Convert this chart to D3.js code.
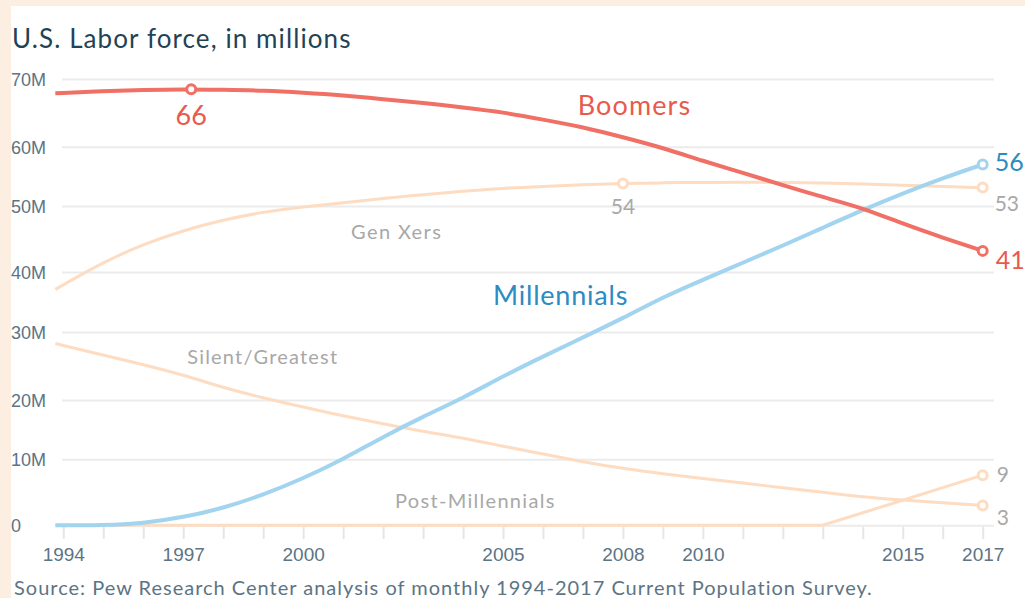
<!DOCTYPE html>
<html>
<head>
<meta charset="utf-8">
<script src="https://cdn.jsdelivr.net/npm/d3@7"></script>
<style>
    html, body { margin: 0; padding: 0; background: #fdeee2; }
    svg { display: block; font-family: Lato, sans-serif; }
    .grid line { stroke: #ebebeb; stroke-width: 2; }
    .ytick text { fill: #5d7484; font-size: 18px; }
    .xaxis line { stroke: #e6e6e6; stroke-width: 2; }
    .xaxis text { fill: #5d7484; font-size: 19px; }
</style>
</head>
<body>
<svg id="chart" width="1025" height="598"></svg>
<script>
// first point sits a little before the 1994 tick in the original
const years = [1993.8, 1995, 1996, 1997, 1998, 1999, 2000, 2001, 2002, 2003, 2004, 2005,
    2006, 2007, 2008, 2009, 2010, 2011, 2012, 2013, 2014, 2015, 2016, 2017];

const boomers = [67.9, 68.2, 68.4, 68.5, 68.4, 68.3, 68.0, 67.6, 67.0, 66.5, 65.8, 65.1,
    64.0, 62.9, 61.4, 59.8, 57.6, 55.6, 53.5, 51.5, 49.7, 47.3, 45.2, 43.2];
const millennials = [0, 0, 0.3, 1.2, 2.6, 4.6, 7.1, 10.0, 13.8, 17.2, 20.3, 23.5,
    26.4, 29.2, 32.3, 35.8, 38.7, 41.4, 44.0, 46.7, 49.4, 52.1, 54.7, 57.0];
const genXers = [37.1, 41.5, 44.2, 46.3, 47.9, 49.1, 49.9, 50.5, 51.3, 51.9, 52.5, 53.0,
    53.3, 53.6, 53.8, 53.9, 54.0, 54.0, 54.0, 53.9, 53.7, 53.5, 53.3, 53.1];
const silentGreatest = [28.3, 26.6, 25.2, 23.7, 21.8, 20.3, 18.8, 17.3, 16.0, 14.7, 13.6, 12.2,
    10.9, 9.6, 8.6, 7.8, 7.1, 6.4, 5.7, 5.0, 4.3, 3.8, 3.4, 3.0];
const postMillennials = [0, 0, 0, 0, 0, 0, 0, 0, 0, 0, 0, 0,
    0, 0, 0, 0, 0, 0, 0, 0, 1.9, 3.8, 5.7, 7.6];

const yTicks = [0, 10, 20, 30, 40, 50, 60, 70];
const yTickLabels = ['0', '10M', '20M', '30M', '40M', '50M', '60M', '70M'];
const xTicks = d3.range(1994, 2018);
const xTickLabels = [1994, 1997, 2000, 2005, 2008, 2010, 2015, 2017];

// circled points: [series, year, value, text]
const callouts = [
    ['Boomers', 1997.2, 68.5, '66'],
    ['Gen Xers', 2008, 53.8, '54'],
    ['Millennials', 2017, 57.0, '56'],
    ['Gen Xers', 2017, 53.1, '53'],
    ['Boomers', 2017, 43.2, '41'],
    ['Post-Millennials', 2017, 7.6, '9'],
    ['Silent/Greatest', 2017, 3.0, '3']
];

// series name labels anchored in data space: [name, year, value]
const seriesNames = [
    ['Boomers', 2006.87, 64.7],
    ['Millennials', 2004.75, 34.5],
    ['Gen Xers', 2001.2, 45.0],
    ['Silent/Greatest', 1997.1, 25.3],
    ['Post-Millennials', 2002.3, 2.6]
];

const styles = {
    'Boomers': {line: '#f07065', text: '#e9594d', width: 4, nameSize: 27, spacing: 1.1, curve: d3.curveBasis},
    'Millennials': {line: '#a2d4f0', text: '#2b8bc3', width: 4, nameSize: 27, spacing: 0.8, curve: d3.curveBasis},
    'Gen Xers': {line: '#fddcc2', text: '#a8a8a8', width: 3, nameSize: 20, spacing: 1.4, curve: d3.curveBasis},
    'Silent/Greatest': {line: '#fddcc2', text: '#a8a8a8', width: 3, nameSize: 20, spacing: 1.2, curve: d3.curveBasis},
    'Post-Millennials': {line: '#fddcc2', text: '#a8a8a8', width: 3, nameSize: 20, spacing: 1.3, curve: d3.curveLinear}
};

// label offsets from the circled point (pixels)
const calloutLayout = {
    '66': {dx: 0, dy: 36, anchor: 'middle', size: 27},
    '54': {dx: 0, dy: 31, anchor: 'middle', size: 21},
    '56': {dx: 12, dy: 7, anchor: 'start', size: 25},
    '53': {dx: 12, dy: 23, anchor: 'start', size: 21},
    '41': {dx: 13, dy: 18, anchor: 'start', size: 25},
    '9': {dx: 14, dy: 7, anchor: 'start', size: 21},
    '3': {dx: 14, dy: 19, anchor: 'start', size: 21}
};

const chartProperties = {
    width: 1025,
    height: 598,
    gridLeft: 62,
    gridRight: 994,
    xAxisTop: 527
};

function translateElement(element, left, top) {
    return element.attr('transform', `translate(${left} ${top})`);
}

function getXScale() {
    return d3.scaleLinear().domain([1994, 2017]).range([63.3, 982.7]);
}

function getYScale() {
    // gridlines in the original are not evenly spaced
    return d3.scaleLinear().domain(yTicks).range([525.3, 459.3, 400, 332, 272, 206, 146.7, 79]);
}

function appendBackground(svg, props) {
    svg.append('rect').attr('x', 0).attr('y', 0)
        .attr('width', props.width).attr('height', props.height).attr('fill', '#fdeee2');
    svg.append('rect').attr('x', 11).attr('y', 6)
        .attr('width', props.width - 11).attr('height', props.height - 6).attr('fill', '#ffffff');
}

function appendYGrid(svg, yScale, props) {
    const g = translateElement(svg.append('g').attr('class', 'grid'), props.gridLeft, 0);
    g.call(d3.axisRight(yScale).tickValues(yTicks)
        .tickSize(props.gridRight - props.gridLeft).tickFormat(''));
    g.select('.domain').remove();
}

function appendYAxis(svg, yScale) {
    const g = translateElement(svg.append('g').attr('class', 'ytick'), 11, 0);
    g.call(d3.axisRight(yScale).tickValues(yTicks).tickSize(0).tickPadding(0)
        .tickFormat((d, i) => yTickLabels[i]));
    g.select('.domain').remove();
    g.selectAll('text').attr('dy', '0.36em').attr('fill', null);
}

function appendXAxis(svg, xScale, props) {
    const g = translateElement(svg.append('g').attr('class', 'xaxis'), 0, props.xAxisTop);
    g.call(d3.axisBottom(xScale).tickValues(xTicks).tickSize(12).tickPadding(9)
        .tickFormat((d) => xTickLabels.includes(d) ? String(d) : ''));
    g.select('.domain').remove();
    g.selectAll('line').attr('stroke', null);
    g.selectAll('text').attr('fill', null);
}

function appendLine(svg, xScale, yScale, values, name) {
    const data = years.map((yr, i) => ({x: yr, y: values[i]}));
    const lineGen = d3.line()
        .x((d) => xScale(d.x))
        .y((d) => yScale(d.y))
        .curve(styles[name].curve);
    svg.append('path').attr('d', lineGen(data))
        .attr('fill', 'none')
        .attr('stroke', styles[name].line)
        .attr('stroke-width', styles[name].width);
}

function appendSeriesNames(svg, xScale, yScale) {
    svg.selectAll().data(seriesNames).enter().append('text')
        .attr('x', (d) => xScale(d[1]))
        .attr('y', (d) => yScale(d[2]))
        .attr('fill', (d) => styles[d[0]].text)
        .style('font-size', (d) => styles[d[0]].nameSize + 'px')
        .style('letter-spacing', (d) => styles[d[0]].spacing + 'px')
        .text((d) => d[0]);
}

function appendCallouts(svg, xScale, yScale) {
    const g = svg.append('g');
    g.selectAll().data(callouts).enter().append('circle')
        .attr('cx', (d) => xScale(d[1]))
        .attr('cy', (d) => yScale(d[2]))
        .attr('r', 4.5)
        .attr('fill', '#ffffff')
        .attr('stroke', (d) => styles[d[0]].line)
        .attr('stroke-width', 3);
    g.selectAll().data(callouts).enter().append('text')
        .attr('x', (d) => xScale(d[1]) + calloutLayout[d[3]].dx)
        .attr('y', (d) => yScale(d[2]) + calloutLayout[d[3]].dy)
        .attr('text-anchor', (d) => calloutLayout[d[3]].anchor)
        .attr('fill', (d) => styles[d[0]].text)
        .style('font-size', (d) => calloutLayout[d[3]].size + 'px')
        .text((d) => d[3]);
}

function createLineChart(svgElement, props) {
    const svg = d3.select(svgElement);
    const xScale = getXScale();
    const yScale = getYScale();

    appendBackground(svg, props);
    svg.append('text').attr('x', 12).attr('y', 48)
        .attr('fill', '#1f4356').style('font-size', '26px').style('letter-spacing', '1.1px')
        .text('U.S. Labor force, in millions');

    appendYGrid(svg, yScale, props);
    appendYAxis(svg, yScale);
    appendXAxis(svg, xScale, props);

    //light series first, then the two highlighted ones on top
    appendLine(svg, xScale, yScale, postMillennials, 'Post-Millennials');
    appendLine(svg, xScale, yScale, silentGreatest, 'Silent/Greatest');
    appendLine(svg, xScale, yScale, genXers, 'Gen Xers');
    appendLine(svg, xScale, yScale, millennials, 'Millennials');
    appendLine(svg, xScale, yScale, boomers, 'Boomers');

    appendSeriesNames(svg, xScale, yScale);
    appendCallouts(svg, xScale, yScale);

    svg.append('text').attr('x', 14).attr('y', 595)
        .attr('fill', '#5d7484').style('font-size', '20px').style('letter-spacing', '1px')
        .text('Source: Pew Research Center analysis of monthly 1994-2017 Current Population Survey.');
    return svgElement;
}

createLineChart(document.getElementById('chart'), chartProperties);
</script>
</body>
</html>
